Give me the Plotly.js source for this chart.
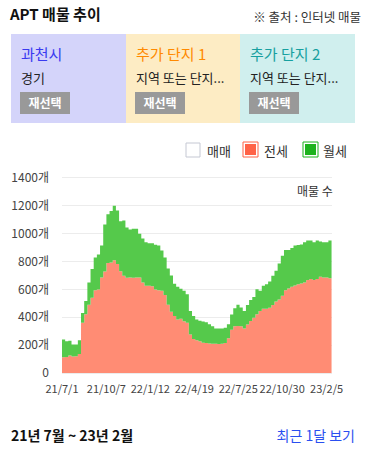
<!DOCTYPE html>
<html><head><meta charset="utf-8">
<script src="https://cdn.plot.ly/plotly-3.0.1.min.js"></script>
<style>
body{margin:0;width:368px;height:449px;background:#fff;font-family:"Noto Sans CJK KR","Noto Sans",sans-serif;position:relative;overflow:hidden}
.abs{position:absolute;white-space:nowrap}
.card{position:absolute;top:34px;height:89px}
.ct{position:absolute;left:10px;top:10px;font-size:15px;line-height:20px}
.cs{position:absolute;left:10px;top:35px;font-size:13px;line-height:17px;color:#222}
.btn{position:absolute;left:9px;top:58px;width:50px;height:22px;background:#999;color:#fff;font-size:12px;font-weight:bold;line-height:22px;text-align:center}
#chart{position:absolute;left:0;top:130px;width:368px;height:275px}
</style></head><body>
<div class="abs" style="left:10px;top:3px;font-size:15px;font-weight:bold;line-height:22px;color:#111">APT 매물 추이</div>
<div class="abs" style="right:7px;top:8px;font-size:12.5px;line-height:18px;color:#333">※ 출처 : 인터넷 매물</div>
<div class="card" style="left:11px;width:115px;background:#d4d4fa"><div class="ct" style="color:#3a3af0">과천시</div><div class="cs">경기</div><div class="btn">재선택</div></div>
<div class="card" style="left:126px;width:114px;background:#fdecc4"><div class="ct" style="color:#ff8a00">추가 단지 1</div><div class="cs">지역 또는 단지...</div><div class="btn">재선택</div></div>
<div class="card" style="left:240px;width:115px;background:#d0efee"><div class="ct" style="color:#17a0a0">추가 단지 2</div><div class="cs">지역 또는 단지...</div><div class="btn">재선택</div></div>
<div id="chart"></div>
<div class="abs" style="left:11px;top:425px;font-size:14px;font-weight:bold;line-height:20px;color:#111">21년 7월 ~ 23년 2월</div>
<div class="abs" style="right:13px;top:425px;font-size:14px;line-height:20px;color:#2a4ff0">최근 1달 보기</div>
<script>
const dates = [
"2021-07-01","2021-07-08","2021-07-15","2021-07-22","2021-07-29","2021-08-05","2021-08-12","2021-08-19","2021-08-26","2021-09-02",
"2021-09-09","2021-09-16","2021-09-23","2021-09-30","2021-10-07","2021-10-14","2021-10-21","2021-10-28","2021-11-04","2021-11-11",
"2021-11-18","2021-11-25","2021-12-02","2021-12-09","2021-12-16","2021-12-23","2021-12-30","2022-01-06","2022-01-13","2022-01-20",
"2022-01-27","2022-02-03","2022-02-10","2022-02-17","2022-02-24","2022-03-03","2022-03-10","2022-03-17","2022-03-24","2022-03-31",
"2022-04-07","2022-04-14","2022-04-21","2022-04-28","2022-05-05","2022-05-12","2022-05-19","2022-05-26","2022-06-02","2022-06-09",
"2022-06-16","2022-06-23","2022-06-30","2022-07-07","2022-07-14","2022-07-21","2022-07-28","2022-08-04","2022-08-11","2022-08-18",
"2022-08-25","2022-09-01","2022-09-08","2022-09-15","2022-09-22","2022-09-29","2022-10-06","2022-10-13","2022-10-20","2022-10-27",
"2022-11-03","2022-11-10","2022-11-17","2022-11-24","2022-12-01","2022-12-08","2022-12-15","2022-12-22","2022-12-29","2023-01-05",
"2023-01-12","2023-01-19","2023-01-26","2023-02-02","2023-02-09","2023-02-16"];
const jeonse = [
113,115,125,118,120,137,360,421,490,541,595,600,686,729,790,794,810,782,730,698,683,686,683,686,686,650,626,626,
623,600,594,590,560,490,440,410,385,390,372,360,277,245,235,228,217,215,212,210,210,209,210,215,250,310,335,337,
336,320,349,373,397,421,445,462,462,469,489,513,527,554,595,607,619,628,638,643,650,667,674,667,674,691,686,686,681,681];
const wolse = [
128,113,107,87,85,99,70,96,160,205,235,250,229,337,350,369,390,385,360,397,362,344,352,349,313,315,313,305,
308,320,321,290,270,260,260,230,235,215,218,205,168,165,150,147,153,150,138,125,110,111,110,110,100,110,130,153,
134,125,140,152,149,181,145,164,176,188,209,221,260,288,288,276,279,287,281,279,289,284,277,272,277,253,253,253,270,265];
const yTickVals = [0,200,400,600,800,1000,1200,1400];
const yTickText = ["0","200개","400개","600개","800개","1000개","1200개","1400개"];
const xTickVals = ["2021-07-01","2021-10-07","2022-01-12","2022-04-19","2022-07-25","2022-10-30","2023-02-05"];
const xTickText = ["21/7/1","21/10/7","22/1/12","22/4/19","22/7/25","22/10/30","23/2/5"];
const legendNames = ["매매","전세","월세"];

const font = "Noto Sans CJK KR, Noto Sans, sans-serif";
const traces = [
  {x: dates, y: jeonse, name: legendNames[1], type: "scatter", mode: "lines", stackgroup: "one",
   line: {shape: "hv", width: 0, color: "#ff8c74"}, fillcolor: "#ff8c74"},
  {x: dates, y: wolse, name: legendNames[2], type: "scatter", mode: "lines", stackgroup: "one",
   line: {shape: "hv", width: 0, color: "#55c94b"}, fillcolor: "#55c94b"}
];
const W = 270, H = 195;
function px(x){return (x-62)/W;}
function py(y){return (373-y)/H;}
const shapes = [
  {type:"rect",xref:"paper",yref:"paper",x0:px(186),x1:px(200),y0:py(157),y1:py(143),line:{color:"#c5c8d3",width:1},fillcolor:"#fff"},
  {type:"rect",xref:"paper",yref:"paper",x0:px(243),x1:px(258),y0:py(157),y1:py(142),line:{color:"#ff6347",width:1},fillcolor:"#fff"},
  {type:"rect",xref:"paper",yref:"paper",x0:px(245),x1:px(256),y0:py(155),y1:py(144),line:{width:0},fillcolor:"#ff6347"},
  {type:"rect",xref:"paper",yref:"paper",x0:px(303),x1:px(318),y0:py(157),y1:py(142),line:{color:"#1db31d",width:1},fillcolor:"#fff"},
  {type:"rect",xref:"paper",yref:"paper",x0:px(305),x1:px(316),y0:py(155),y1:py(144),line:{width:0},fillcolor:"#1db31d"}
];
const annotations = [
  {xref:"paper",yref:"paper",x:px(205),y:py(150),xanchor:"left",yanchor:"middle",text:legendNames[0],showarrow:false,font:{family:font,size:13,color:"#333"}},
  {xref:"paper",yref:"paper",x:px(262),y:py(150),xanchor:"left",yanchor:"middle",text:legendNames[1],showarrow:false,font:{family:font,size:13,color:"#333"}},
  {xref:"paper",yref:"paper",x:px(321),y:py(150),xanchor:"left",yanchor:"middle",text:legendNames[2],showarrow:false,font:{family:font,size:13,color:"#333"}},
  {xref:"paper",yref:"paper",x:1.01,y:py(190),xanchor:"right",yanchor:"middle",text:"매물 수",showarrow:false,font:{family:font,size:12,color:"#333"}}
];
const layout = {
  width: 368, height: 275,
  margin: {l: 62, r: 36, t: 48, b: 32},
  paper_bgcolor: "#fff", plot_bgcolor: "#fff",
  showlegend: false,
  font: {family: font, size: 11, color: "#444"},
  xaxis: {type: "date", range: ["2021-07-01", "2023-02-17"], tickvals: xTickVals, ticktext: xTickText, tickangle: 0,
          showgrid: false, zeroline: false, showline: true, mirror: true, linecolor: "#ececec", linewidth: 1,
          ticks: "", ticklabelstandoff: 6, tickfont: {family: font, size: 11, color: "#444"}, fixedrange: true},
  yaxis: {range: [0, 1400], tickvals: yTickVals, ticktext: yTickText, showgrid: true, gridcolor: "#ececec",
          zeroline: false, showline: false, ticks: "", ticklabelstandoff: 12,
          tickfont: {family: font, size: 12, color: "#444"}, fixedrange: true},
  shapes: shapes, annotations: annotations
};
Plotly.newPlot("chart", traces, layout, {staticPlot: true, displayModeBar: false});
</script>
</body></html>
